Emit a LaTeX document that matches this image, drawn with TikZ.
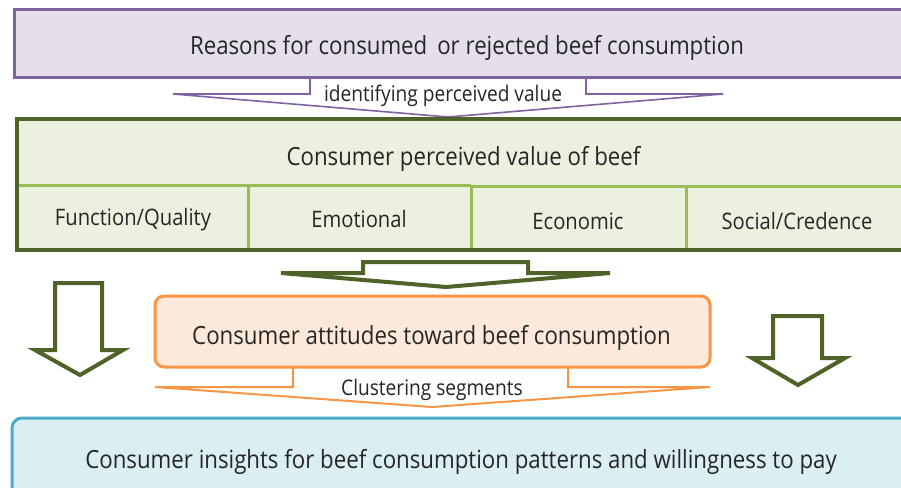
\documentclass[tikz,border=0pt]{standalone}
\usepackage{fontspec}
\setmainfont[FakeStretch=0.89]{Open Sans}
\definecolor{purp}{HTML}{8064A2}
\definecolor{lav}{HTML}{E5DFEC}
\definecolor{dgreen}{HTML}{4F6228}
\definecolor{lgreen}{HTML}{9BBB59}
\definecolor{gfill}{HTML}{EBF1DE}
\definecolor{orng}{HTML}{F79646}
\definecolor{ofill}{HTML}{FDE9D9}
\definecolor{blu}{HTML}{4BACC6}
\definecolor{bfill}{HTML}{DAEEF3}
\tikzset{
  big/.style={font=\fontsize{25}{28}\selectfont, text=black!85},
  mid/.style={font=\fontsize{22.7}{26}\selectfont, text=black!85},
  small/.style={font=\fontsize{21.5}{24}\selectfont, text=black!85},
  box/.style={inner sep=0pt, line width=3pt},
  blockarrow/.style={line join=miter, fill=white},
}
\begin{document}
\begin{tikzpicture}[x=1pt,y=-1pt]
\clip (0,0) rectangle (901,487);
\fill[white] (0,0) rectangle (901,487);
% purple arrow
\draw[draw=purp, blockarrow, line width=1.6pt] (310,77) -- (310,94) -- (173,94) -- (448,117) -- (723,94) -- (586,94) -- (586,77);
\node[small] (lab1) at (443,96) {identifying perceived value};
% top box
\node[box, draw=purp, fill=lav, minimum width=906pt, minimum height=67pt] (reasons) at (467,43.5) {};
\node[big] (reasonst) at (467,48) {Reasons for consumed\, or rejected beef consumption};
% green box
\node[box, draw=none, fill=gfill, minimum width=891pt, minimum height=128pt] (pv) at (463.5,184) {};
\draw[lgreen, line width=3pt] (18,185) -- (471,185);
\draw[lgreen, line width=3pt] (471,186.5) -- (909,186.5);
\draw[lgreen, line width=3pt] (248,185) -- (248,248);
\draw[lgreen, line width=3pt] (471,185) -- (471,248);
\draw[lgreen, line width=3pt] (686,186.5) -- (686,248);
\draw[dgreen, line width=4pt] (pv.north west) rectangle (pv.south east);
\node[big] (pvt) at (463.5,159) {Consumer perceived value of beef};
\node[mid] (fq) at (133,220) {Function/Quality};
\node[mid] (emo) at (359,219) {Emotional};
\node[mid] (eco) at (578,221) {Economic};
\node[mid] (soc) at (797,221) {Social/Credence};
% green arrows
\draw[draw=dgreen, blockarrow, line width=4pt] (363,273) -- (363,262) -- (528,262) -- (528,273) -- (610,273) -- (446,287) -- (281,273) -- cycle;
\draw[draw=dgreen, blockarrow, line width=4pt] (55,283) -- (102,283) -- (102,350) -- (123,350) -- (80,375) -- (35,350) -- (55,350) -- cycle;
\draw[draw=dgreen, blockarrow, line width=4pt] (773,316) -- (822,316) -- (822,358) -- (845,358) -- (798,385) -- (752,358) -- (773,358) -- cycle;
% orange arrow
\draw[draw=orng, blockarrow, line width=2pt] (293,367) -- (293,387) -- (155,387) -- (432,407) -- (710,387) -- (568,387) -- (568,367);
\node[small] (lab2) at (432,390) {Clustering segments};
% orange box
\node[box, draw=orng, fill=ofill, rounded corners=9pt, minimum width=555pt, minimum height=71pt] (att) at (432.5,331.5) {};
\node[big] (attt) at (431.5,338) {Consumer attitudes toward beef consumption};
% bottom box
\node[box, draw=blu, fill=bfill, rounded corners=10pt, minimum width=898pt, minimum height=82pt] (ins) at (461,459) {};
\node[big] (inst) at (461,462) {Consumer insights for beef consumption patterns and willingness to pay};
\end{tikzpicture}
\end{document}
